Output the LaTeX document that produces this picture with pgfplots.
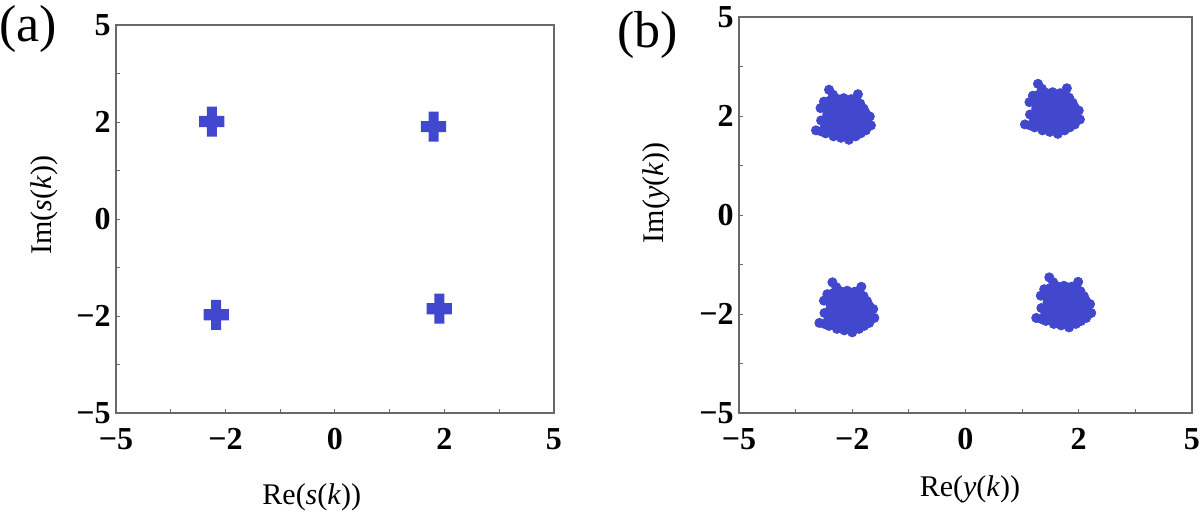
\documentclass[border=0pt]{standalone}
\usepackage{fontspec}
\setmainfont{Liberation Serif}
\usepackage{pgfplots}
\pgfplotsset{compat=1.18}

\definecolor{ptblue}{RGB}{65,72,205}
\definecolor{frame}{RGB}{105,105,105}

% fat plus sign used for panel (a)
\pgfdeclareplotmark{fatplus}{%
  \pgfpathmoveto{\pgfqpoint{-2.5pt}{7.5pt}}%
  \pgfpathlineto{\pgfqpoint{2.5pt}{7.5pt}}%
  \pgfpathlineto{\pgfqpoint{2.5pt}{2.8pt}}%
  \pgfpathlineto{\pgfqpoint{6.3pt}{2.8pt}}%
  \pgfpathlineto{\pgfqpoint{6.3pt}{-2.8pt}}%
  \pgfpathlineto{\pgfqpoint{2.5pt}{-2.8pt}}%
  \pgfpathlineto{\pgfqpoint{2.5pt}{-7.5pt}}%
  \pgfpathlineto{\pgfqpoint{-2.5pt}{-7.5pt}}%
  \pgfpathlineto{\pgfqpoint{-2.5pt}{-2.8pt}}%
  \pgfpathlineto{\pgfqpoint{-6.3pt}{-2.8pt}}%
  \pgfpathlineto{\pgfqpoint{-6.3pt}{2.8pt}}%
  \pgfpathlineto{\pgfqpoint{-2.5pt}{2.8pt}}%
  \pgfpathclose
  \pgfusepathqfill}

\pgfplotsset{
  constel/.style={
    scale only axis,
    clip=false,
    xmin=-4, xmax=4, ymin=-4, ymax=4,
    xtick={-4,...,4}, ytick={-4,...,4},
    xticklabels={−5,,−2,,0,,2,,5},
    yticklabels={−5,,−2,,0,,2,,5},
    tick align=inside,
    xtick pos=left, ytick pos=left,
    major tick length=1.8pt,
    axis line style={frame, line width=0.8pt},
    every tick/.style={frame, line width=0.5pt},
    tick label style={font=\fontsize{16}{17}\selectfont\bfseries},
    xticklabel style={inner sep=0pt, anchor=north, yshift=-7.5pt},
    yticklabel style={inner sep=0pt, anchor=east, xshift=-2.5pt},
    label style={font=\fontsize{15}{16}\selectfont},
  },
}

\begin{document}
\begin{tikzpicture}
\useasboundingbox (0,0) rectangle (600pt,257.5pt);

% (a) transmitted symbols
\begin{axis}[constel,
  at={(58pt,51pt)}, anchor=south west,
  width=219pt, height=194pt,
  xlabel={Re(\textit{s}(\textit{k}))},
  ylabel={Im(\textit{s}(\textit{k}))},
  xlabel style={at={(axis description cs:0.447,-0.216)}, anchor=center},
  ylabel style={at={(axis description cs:-0.164,0.536)}, anchor=center},
]
\addplot[only marks, mark=fatplus, color=ptblue, mark options={fill=ptblue, draw=none}]
  coordinates {(-2.25,2.01) (1.80,1.905) (-2.17,-1.975) (1.905,-1.85)};
\node[font=\fontsize{26}{28}\selectfont] at (axis description cs:-0.201,0.99) {(a)};
\end{axis}

% (b) equalizer output
\begin{axis}[constel,
  at={(369.5pt,51pt)}, anchor=south west,
  width=226.5pt, height=198pt,
  xlabel={Re(\textit{y}(\textit{k}))},
  ylabel={Im(\textit{y}(\textit{k}))},
  xlabel style={at={(axis description cs:0.51,-0.194)}, anchor=center},
  ylabel style={at={(axis description cs:-0.183,0.556)}, anchor=center},
]
% dense cores of the four clusters
\addplot[only marks, mark=*, mark size=4pt, color=ptblue, mark options={draw=none, fill=ptblue}]
  coordinates {
  (-2.35,2.19) (-2.20,2.19) (-2.05,2.19) (-1.92,2.19)
  (-2.38,2.03) (-2.22,2.03) (-2.06,2.03) (-1.90,2.03) (-1.82,2.03)
  (-2.35,1.87) (-2.20,1.87) (-2.05,1.87) (-1.90,1.87) (-1.82,1.87)
  (-2.28,1.73) (-2.14,1.73) (-2.00,1.73)
  (1.34,2.31) (1.49,2.31) (1.64,2.31) (1.77,2.31)
  (1.31,2.15) (1.47,2.15) (1.63,2.15) (1.79,2.15) (1.87,2.15)
  (1.34,1.99) (1.49,1.99) (1.64,1.99) (1.79,1.99) (1.87,1.99)
  (1.41,1.85) (1.55,1.85) (1.69,1.85)
  (-2.29,-1.70) (-2.14,-1.70) (-1.99,-1.70) (-1.86,-1.70)
  (-2.32,-1.86) (-2.16,-1.86) (-2.00,-1.86) (-1.84,-1.86) (-1.76,-1.86)
  (-2.29,-2.02) (-2.14,-2.02) (-1.99,-2.02) (-1.84,-2.02) (-1.76,-2.02)
  (-2.22,-2.16) (-2.08,-2.16) (-1.94,-2.16)
  (1.54,-1.60) (1.69,-1.60) (1.84,-1.60) (1.97,-1.60)
  (1.51,-1.76) (1.67,-1.76) (1.83,-1.76) (1.99,-1.76) (2.07,-1.76)
  (1.54,-1.92) (1.69,-1.92) (1.84,-1.92) (1.99,-1.92) (2.07,-1.92)
  (1.61,-2.06) (1.75,-2.06) (1.89,-2.06)
  };
% scattered outer points and arms
\addplot[only marks, mark=*, mark size=2.3pt, color=ptblue, mark options={draw=none, fill=ptblue}]
  coordinates {
  (-2.41,2.53) (-2.34,2.43) (-2.27,2.35) (-2.15,2.36) (-2.02,2.34)
  (-1.90,2.44) (-1.94,2.35) (-1.86,2.25) (-1.80,2.15) (-1.69,1.99)
  (-1.67,1.81) (-1.76,1.71) (-1.85,1.65) (-1.94,1.59) (-2.06,1.52)
  (-2.20,1.56) (-2.33,1.59) (-2.47,1.65) (-2.64,1.71) (-2.55,1.69)
  (-2.48,1.79) (-2.55,1.91) (-2.56,2.16) (-2.50,2.29) (-2.40,2.31)
  (1.28,2.65) (1.35,2.55) (1.42,2.47) (1.54,2.48) (1.67,2.46)
  (1.79,2.56) (1.75,2.47) (1.83,2.37) (1.89,2.27) (2.00,2.11)
  (2.02,1.93) (1.93,1.83) (1.84,1.77) (1.75,1.71) (1.63,1.64)
  (1.49,1.68) (1.36,1.71) (1.22,1.77) (1.05,1.83) (1.14,1.81)
  (1.21,1.91) (1.14,2.03) (1.13,2.28) (1.19,2.41) (1.29,2.43)
  (-2.35,-1.36) (-2.28,-1.46) (-2.21,-1.54) (-2.09,-1.53) (-1.96,-1.55)
  (-1.84,-1.45) (-1.88,-1.54) (-1.80,-1.64) (-1.74,-1.74) (-1.63,-1.90)
  (-1.61,-2.08) (-1.70,-2.18) (-1.79,-2.24) (-1.88,-2.30) (-2.00,-2.37)
  (-2.14,-2.33) (-2.27,-2.30) (-2.41,-2.24) (-2.58,-2.18) (-2.49,-2.20)
  (-2.42,-2.10) (-2.49,-1.98) (-2.50,-1.73) (-2.44,-1.60) (-2.34,-1.58)
  (1.48,-1.26) (1.55,-1.36) (1.62,-1.44) (1.74,-1.43) (1.87,-1.45)
  (1.99,-1.35) (1.95,-1.44) (2.03,-1.54) (2.09,-1.64) (2.20,-1.80)
  (2.22,-1.98) (2.13,-2.08) (2.04,-2.14) (1.95,-2.20) (1.83,-2.27)
  (1.69,-2.23) (1.56,-2.20) (1.42,-2.14) (1.25,-2.08) (1.34,-2.10)
  (1.41,-2.00) (1.34,-1.88) (1.33,-1.63) (1.39,-1.50) (1.49,-1.48)
  };
\node[font=\fontsize{26}{28}\selectfont] at (axis description cs:-0.201,0.955) {(b)};
\end{axis}
\end{tikzpicture}
\end{document}
